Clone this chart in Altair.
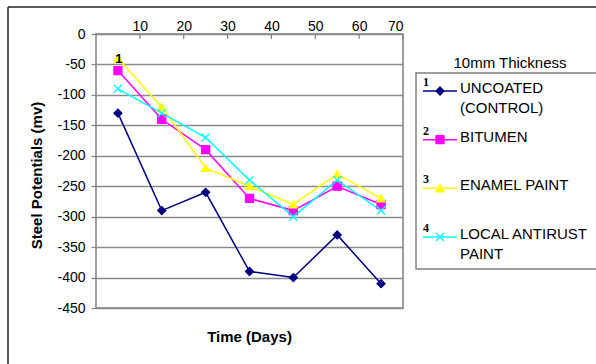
import altair as alt
import pandas as pd

# ---- data ----
days = [5, 15, 25, 35, 45, 55, 65]
uncoated = [-130, -290, -260, -390, -400, -330, -410]
bitumen = [-60, -140, -190, -270, -290, -250, -280]
enamel = [-40, -120, -220, -250, -280, -230, -270]
antirust = [-90, -130, -170, -240, -300, -240, -290]

series_names = ["UNCOATED (CONTROL)", "BITUMEN", "ENAMEL PAINT", "LOCAL ANTIRUST PAINT"]
legend_labels = ["UNCOATED\n(CONTROL)", "BITUMEN", "ENAMEL PAINT", "LOCAL ANTIRUST\nPAINT"]
legend_numbers = ["1", "2", "3", "4"]
x_ticks = [10, 20, 30, 40, 50, 60, 70]
y_ticks = [-450, -400, -350, -300, -250, -200, -150, -100, -50, 0]
legend_title = "10mm Thickness"
x_title = "Time (Days)"
y_title = "Steel Potentials (mv)"
annot_day = [5]
annot_value = [-40]
annot_text = ["1"]

# ---- styles ----
series_colors = ["#000080", "#FF00FF", "#FFFF00", "#00FFFF"]
X_PATH = "M-1,-1L1,1M-1,1L1,-1"
series_shapes = ["diamond", "square", "triangle-up", X_PATH]
FONT = "Liberation Sans"
GRID = "#8a8a8a"

values_by_series = [uncoated, bitumen, enamel, antirust]
rows = []
for name, vals in zip(series_names, values_by_series):
    for d, v in zip(days, vals):
        rows.append({"series": name, "day": d, "value": v})
df = pd.DataFrame(rows)

color_scale = alt.Scale(domain=series_names, range=series_colors)
shape_scale = alt.Scale(domain=series_names, range=series_shapes)

x_enc = alt.X(
    "day:Q",
    scale=alt.Scale(domain=[0, 70], nice=False, zero=False),
    axis=alt.Axis(
        orient="top", values=x_ticks, format="d", title=None, grid=False,
        domain=False, ticks=False, labelPadding=1, labelFontSize=14,
        labelOverlap=False,
    ),
)
y_enc = alt.Y(
    "value:Q",
    scale=alt.Scale(domain=[-450, 0], nice=False),
    axis=alt.Axis(
        values=y_ticks, labelExpr="'' + datum.value", title=y_title,
        titleX=-60, titleY=141, titleAngle=-90, titleAlign="center",
        titleBaseline="middle", titleFontWeight="bold", titleFontSize=15,
        grid=True, gridColor=GRID, gridWidth=1.5, domain=False,
        tickSize=5, tickColor="#808080", tickWidth=1.2,
        labelPadding=6, labelFontSize=14, labelOverlap=False,
        labelSeparation=0,
    ),
)

base = alt.Chart(df)
lines = base.mark_line(strokeWidth=1.5).encode(
    x=x_enc, y=y_enc,
    color=alt.Color("series:N", scale=color_scale, legend=None),
    detail="series:N",
)
points = base.mark_point(opacity=1, strokeWidth=1.3, size=64).encode(
    x=x_enc, y=y_enc,
    color=alt.Color("series:N", scale=color_scale, legend=None),
    fill=alt.Fill("series:N", scale=color_scale, legend=None),
    shape=alt.Shape("series:N", scale=shape_scale, legend=None),
)
annot_df = pd.DataFrame({"day": annot_day, "value": annot_value, "t": annot_text})
annot = alt.Chart(annot_df).mark_text(
    font=FONT, fontSize=13, fontWeight="bold", color="black",
    align="center", baseline="middle", dx=1, dy=1,
).encode(x=x_enc, y=y_enc, text="t:N")

# inward tick marks of the top axis
tick_df = pd.DataFrame({"day": x_ticks})
x_tick_marks = alt.Chart(tick_df).mark_rule(color="#808080", strokeWidth=1.2).encode(
    x=x_enc, y=alt.value(0), y2=alt.value(5))

main = alt.layer(lines, points, annot, x_tick_marks)

# ---- legend drawn from its own small table ----
leg_df = pd.DataFrame({"series": series_names, "label": legend_labels, "num": legend_numbers})
ly = alt.Y(
    "series:N",
    scale=alt.Scale(type="point", domain=series_names, range=[57, 203], padding=0),
    axis=None,
)
leg_base = alt.Chart(leg_df)
leg_rule = leg_base.mark_rule(strokeWidth=1.5).encode(
    x=alt.value(327), x2=alt.value(361), y=ly,
    color=alt.Color("series:N", scale=color_scale, legend=None),
)
leg_pts = leg_base.mark_point(opacity=1, strokeWidth=1.3, size=64).encode(
    x=alt.value(344), y=ly,
    color=alt.Color("series:N", scale=color_scale, legend=None),
    fill=alt.Fill("series:N", scale=color_scale, legend=None),
    shape=alt.Shape("series:N", scale=shape_scale, legend=None),
)
leg_num = leg_base.mark_text(
    font="Liberation Serif", fontSize=12, fontWeight="bold", color="black",
    align="left", baseline="alphabetic", dy=-5,
).encode(x=alt.value(327), y=ly, text="num:N")
leg_lab = leg_base.mark_text(
    font=FONT, fontSize=15, color="black", align="left", baseline="alphabetic",
    dy=2, lineBreak="\n", lineHeight=20,
).encode(x=alt.value(364), y=ly, text="label:N")
legend = alt.layer(leg_rule, leg_pts, leg_num, leg_lab)

# ---- frame, legend box and titles ----
one = alt.Chart(pd.DataFrame({"k": [0]}))
frame_top = one.mark_rule(color="#222222", strokeWidth=1.5).encode(
    x=alt.value(-88), x2=alt.value(530), y=alt.value(-27))
frame_left = one.mark_rule(color="#222222", strokeWidth=1.5).encode(
    x=alt.value(-88), y=alt.value(-27), y2=alt.value(345))
leg_box = one.mark_rect(fill="white", stroke="#808080", strokeWidth=1.5).encode(
    x=alt.value(320), x2=alt.value(530), y=alt.value(39), y2=alt.value(235))
leg_title = one.mark_text(font=FONT, fontSize=15, color="black", align="center", baseline="middle").encode(
    x=alt.value(414), y=alt.value(29), text=alt.value(legend_title))
x_title_mark = one.mark_text(font=FONT, fontSize=15, fontWeight="bold", color="black",
                             align="center", baseline="middle").encode(
    x=alt.value(153.5), y=alt.value(303), text=alt.value(x_title))

chart = alt.layer(
    frame_top, frame_left, leg_box, leg_title, x_title_mark, main, legend
).resolve_scale(y="independent").properties(
    width=307, height=274,
    autosize=alt.AutoSizeParams(type="none"),
    padding={"left": 96, "top": 34, "right": 193, "bottom": 56},
    background="white",
).configure_view(
    stroke="#808080", strokeWidth=1.5
).configure_axis(
    labelFont=FONT, titleFont=FONT, labelColor="black", titleColor="black",
    labelOverlap=False
)

chart.save("out.html", embed_options={"renderer": "svg", "actions": False})
